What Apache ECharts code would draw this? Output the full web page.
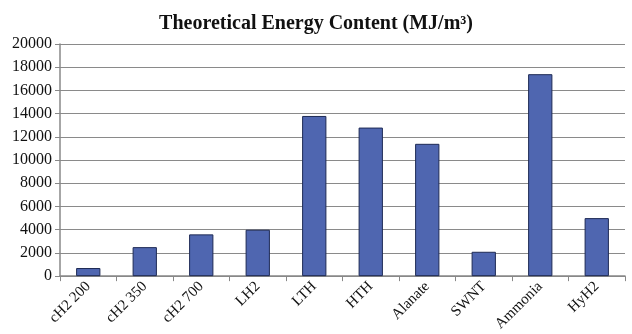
<!DOCTYPE html>
<html>
<head>
<meta charset="utf-8">
<script src="https://cdn.jsdelivr.net/npm/echarts@6/dist/echarts.min.js"></script>
<style>
  html, body {margin: 0; padding: 0; background: #fff;}
  #chart {width: 632px; height: 334px;}
</style>
</head>
<body>
<div id="chart"></div>
<script>
const categories = ['cH2 200', 'cH2 350', 'cH2 700', 'LH2', 'LTH', 'HTH', 'Alanate', 'SWNT', 'Ammonia', 'HyH2'];
const energy = [700, 2500, 3600, 4000, 13800, 12800, 11400, 2100, 17400, 5000];

const font = '"Liberation Serif", "DejaVu Serif", serif';
const chart = echarts.init(document.getElementById('chart'));
chart.setOption({
  animation: false,
  title: {
    text: 'Theoretical Energy Content (MJ/m³)',
    left: 'center',
    top: 9,
    textStyle: {fontFamily: font, fontSize: 20, fontWeight: 'bold', color: '#111'}
  },
  grid: {left: 60, right: 7, top: 44, bottom: 57},
  xAxis: {
    type: 'category',
    data: categories,
    axisLine: {lineStyle: {color: '#888', width: 1.5}},
    axisTick: {show: true, length: 5, lineStyle: {color: '#888'}},
    axisLabel: {
      rotate: 45,
      interval: 0,
      margin: 8,
      fontFamily: font,
      fontSize: 15,
      color: '#111'
    }
  },
  yAxis: {
    type: 'value',
    min: 0,
    max: 20000,
    interval: 2000,
    axisLine: {show: true, lineStyle: {color: '#888', width: 1.5}},
    axisTick: {show: true, length: 5, lineStyle: {color: '#888'}},
    splitLine: {lineStyle: {color: '#8a8a8a', width: 1.2}},
    axisLabel: {
      fontFamily: font,
      fontSize: 16,
      color: '#111',
      margin: 8,
      formatter: v => String(v)
    }
  },
  series: [{
    type: 'bar',
    data: energy,
    barWidth: '43%',
    itemStyle: {color: '#4f66b0', borderColor: '#1e2a55', borderWidth: 1}
  }]
});
</script>
</body>
</html>
